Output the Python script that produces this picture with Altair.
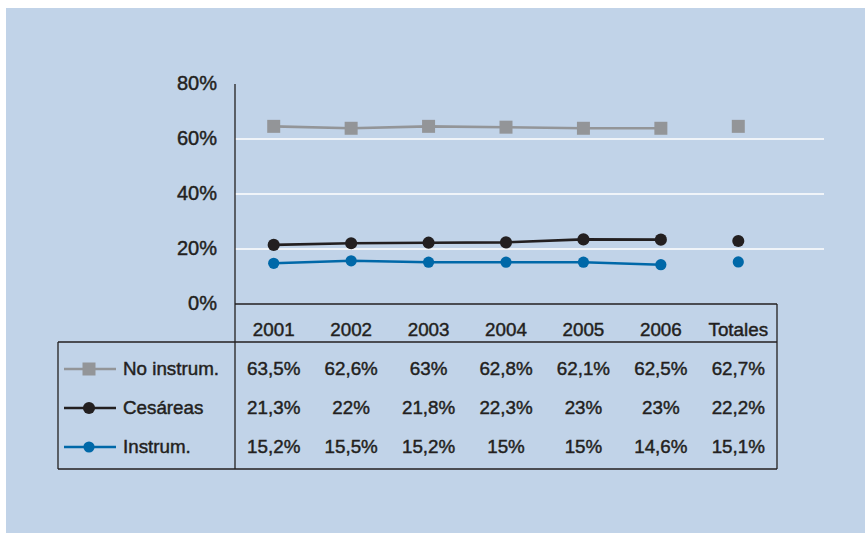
import altair as alt
import pandas as pd

# ---------------- data ----------------
categories = ["2001", "2002", "2003", "2004", "2005", "2006", "Totales"]
series = ["No instrum.", "Cesáreas", "Instrum."]

plot_no_instrum = [64.6, 63.9, 64.6, 64.3, 63.9, 63.9, 64.6]
plot_cesareas = [21.5, 22.1, 22.3, 22.4, 23.5, 23.4, 22.9]
plot_instrum = [14.8, 15.7, 15.2, 15.2, 15.2, 14.3, 15.3]

# table values (as printed)
table_no_instrum = ["63,5%", "62,6%", "63%", "62,8%", "62,1%", "62,5%", "62,7%"]
table_cesareas = ["21,3%", "22%", "21,8%", "22,3%", "23%", "23%", "22,2%"]
table_instrum = ["15,2%", "15,5%", "15,2%", "15%", "15%", "14,6%", "15,1%"]

y_ticks = [0, 20, 40, 60, 80]
y_tick_labels = ["0%", "20%", "40%", "60%", "80%"]
grid_values = [20, 40, 60]

colors = ["#939598", "#231f20", "#0068a8"]
shapes = ["square", "circle", "circle"]
sizes = [169, 125, 125]

# ---------------- tables ----------------
plot_vals = [plot_no_instrum, plot_cesareas, plot_instrum]
table_vals = [table_no_instrum, table_cesareas, table_instrum]
rows = []
for s, pv, tv in zip(series, plot_vals, table_vals):
    for c, v, t in zip(categories, pv, tv):
        rows.append({"cat": c, "series": s, "value": v, "label": t,
                     "connected": c != "Totales"})
df = pd.DataFrame(rows)
df_line = df[df["connected"]]
header_df = pd.DataFrame({"cat": categories, "row": "header"})
legend_df = pd.DataFrame({"series": series, "row": series})
grid_df = pd.DataFrame({"g": grid_values})
ytick_df = pd.DataFrame({"v": y_ticks, "t": y_tick_labels})
one = pd.DataFrame({"k": [0]})

TEXT = "#231f20"
FONT = "Liberation Sans"
FS = 18.8
TSTROKE = 0.45
W, H = 542, 220

x_enc = alt.X("cat:N", sort=categories,
              scale=alt.Scale(type="point", domain=categories, padding=0.5),
              axis=None)
y_scale = alt.Scale(domain=[0, 80])
row_scale = alt.Scale(type="point", domain=["header"] + series,
                      range=[246, 363], padding=0)
color_enc = alt.Color("series:N", scale=alt.Scale(domain=series, range=colors),
                      legend=None)
shape_enc = alt.Shape("series:N", scale=alt.Scale(domain=series, range=shapes),
                      legend=None)
size_enc = alt.Size("series:N", scale=alt.Scale(domain=series, range=sizes),
                    legend=None)

txt = dict(font=FONT, fontSize=FS, color=TEXT, stroke=TEXT,
           strokeWidth=TSTROKE, baseline="middle")

background = alt.Chart(one).mark_rect(color="#c1d3e8").encode(
    x=alt.value(6 - 235), x2=alt.value(865 - 235),
    y=alt.value(8 - 84), y2=alt.value(533 - 84))

grid = alt.Chart(grid_df).mark_rule(color="white", strokeWidth=1.6).encode(
    y=alt.Y("g:Q", scale=y_scale, axis=None),
    x=alt.value(0), x2=alt.value(824 - 235))

ylabels = alt.Chart(ytick_df).mark_text(
    align="right", **{**txt, "fontSize": 20}).encode(
    y=alt.Y("v:Q", scale=y_scale, axis=None),
    x=alt.value(-18), text="t:N")


def rule(x1, x2, y1, y2):
    return alt.Chart(one).mark_rule(color=TEXT, strokeWidth=1.3).encode(
        x=alt.value(x1), x2=alt.value(x2), y=alt.value(y1), y2=alt.value(y2))


borders = [
    rule(0, W, H, H),              # 0% line / table top
    rule(-177, W, 258, 258),       # header separator
    rule(-177, W, 385, 385),       # bottom
    rule(-177, -177, 258, 385),    # left edge
    rule(0, 0, 0, 385),            # y axis line down through table
    rule(W, W, H, 385),            # right edge
]

lines = alt.Chart(df_line).mark_line(strokeWidth=2.6).encode(
    x=x_enc,
    y=alt.Y("value:Q", scale=y_scale, axis=None),
    color=color_enc,
    detail="series:N")

points = alt.Chart(df).mark_point(filled=True, opacity=1, strokeWidth=0).encode(
    x=x_enc,
    y=alt.Y("value:Q", scale=y_scale, axis=None),
    color=color_enc, shape=shape_enc, size=size_enc)

header = alt.Chart(header_df).mark_text(align="center", **txt).encode(
    x=x_enc, y=alt.Y("row:N", scale=row_scale, axis=None), text="cat:N")

cells = alt.Chart(df).mark_text(align="center", **txt).encode(
    x=x_enc, y=alt.Y("series:N", scale=row_scale, axis=None), text="label:N")

leg_line = alt.Chart(legend_df).mark_rule(strokeWidth=2.6).encode(
    x=alt.value(64 - 235), x2=alt.value(116 - 235),
    y=alt.Y("row:N", scale=row_scale, axis=None), color=color_enc)
leg_pt = alt.Chart(legend_df).mark_point(filled=True, opacity=1, strokeWidth=0).encode(
    x=alt.value(89 - 235),
    y=alt.Y("row:N", scale=row_scale, axis=None),
    color=color_enc, shape=shape_enc, size=size_enc)
leg_text = alt.Chart(legend_df).mark_text(align="left", **txt).encode(
    x=alt.value(123 - 235),
    y=alt.Y("row:N", scale=row_scale, axis=None), text="series:N")

chart = alt.layer(
    background, grid, ylabels, *borders, lines, points, header, cells,
    leg_line, leg_pt, leg_text
).resolve_scale(y="independent").properties(
    width=W, height=H,
    autosize=alt.AutoSizeParams(type="none"),
    padding={"left": 235, "top": 84, "right": 865 - 235 - W,
             "bottom": 533 - 84 - H},
    background="white",
).configure_view(stroke=None)

chart.save("out.html", embed_options={"renderer": "svg", "actions": False})
